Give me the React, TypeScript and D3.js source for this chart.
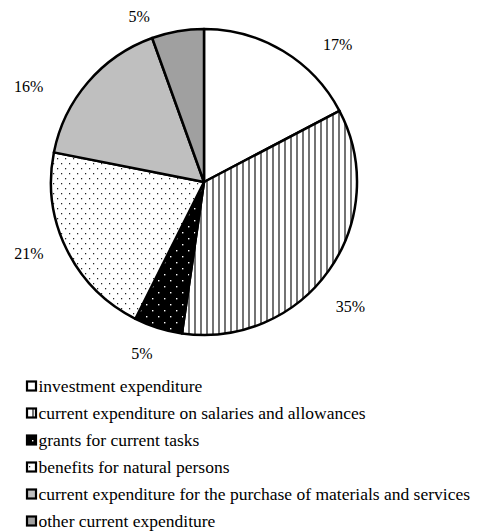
import React, { useRef, useEffect } from 'react';
import * as d3 from 'd3';

// categories and shares (percent of total)
const categories = [
    'investment expenditure',
    'current expenditure on salaries and allowances',
    'grants for current tasks',
    'benefits for natural persons',
    'current expenditure for the purchase of materials and services',
    'other current expenditure',
];
const shares = [17.3, 35.0, 5.1, 20.7, 16.4, 5.5];
const percentLabels = ['17%', '35%', '5%', '21%', '16%', '5%'];

const fills = ['#ffffff', 'url(#vlines)', 'url(#blackdots)', 'url(#whitedots)', '#bfbfbf', '#a0a0a0'];
// small nudges so the labels sit where the original put them
const labelShift = [13, 5, 2.5, 4, -12, -11.5];
const labelRadius = [192, 192, 182, 189, 200, 178];

const FONT = "'Liberation Serif', 'Times New Roman', 'DejaVu Serif', serif";

const App: React.FC = () => {
    const svgRef = useRef<SVGSVGElement | null>(null);
    const width = 478;
    const height = 532;

    useEffect(() => {
        const svg = d3.select(svgRef.current);
        svg.selectAll('*').remove();
        svg.attr('width', width).attr('height', height);

        const defs = svg.append('defs');

        // vertical hatching
        const vl = defs.append('pattern')
            .attr('id', 'vlines')
            .attr('patternUnits', 'userSpaceOnUse')
            .attr('width', 6)
            .attr('height', 6);
        vl.append('rect').attr('width', 6).attr('height', 6).attr('fill', '#fff');
        vl.append('line')
            .attr('x1', 3).attr('x2', 3).attr('y1', 0).attr('y2', 6)
            .attr('stroke', '#000').attr('stroke-width', 1.1);

        // black with white dots
        const bd = defs.append('pattern')
            .attr('id', 'blackdots')
            .attr('patternUnits', 'userSpaceOnUse')
            .attr('width', 12)
            .attr('height', 12);
        bd.append('rect').attr('width', 12).attr('height', 12).attr('fill', '#000');
        [[2, 2], [8, 8]].forEach(([x, y]) => {
            bd.append('rect').attr('x', x).attr('y', y).attr('width', 1.4).attr('height', 1.4).attr('fill', '#fff');
        });

        // white with small black dots
        const wd = defs.append('pattern')
            .attr('id', 'whitedots')
            .attr('patternUnits', 'userSpaceOnUse')
            .attr('width', 8)
            .attr('height', 10);
        wd.append('rect').attr('width', 8).attr('height', 10).attr('fill', '#fff');
        [[1, 1], [5, 6]].forEach(([x, y]) => {
            wd.append('rect').attr('x', x).attr('y', y).attr('width', 1.2).attr('height', 1.3).attr('fill', '#222');
        });

        const cx = 204;
        const cy = 182;
        const radius = 153;

        const pie = d3.pie<number>().sort(null).value(d => d);
        const arcs = pie(shares);
        const arc = d3.arc<d3.PieArcDatum<number>>().innerRadius(0).outerRadius(radius);

        const g = svg.append('g').attr('transform', `translate(${cx},${cy})`);

        g.selectAll('path.slice')
            .data(arcs)
            .enter()
            .append('path')
            .attr('class', 'slice')
            .attr('d', arc)
            .attr('fill', (_, i) => fills[i])
            .attr('stroke', '#000')
            .attr('stroke-width', 2.5)
            .attr('stroke-linejoin', 'round');

        // percent labels outside the pie
        g.selectAll('text.pct')
            .data(arcs)
            .enter()
            .append('text')
            .attr('class', 'pct')
            .attr('x', (d, i) => {
                const a = (d.startAngle + d.endAngle) / 2 + (labelShift[i] * Math.PI) / 180;
                return Math.sin(a) * labelRadius[i];
            })
            .attr('y', (d, i) => {
                const a = (d.startAngle + d.endAngle) / 2 + (labelShift[i] * Math.PI) / 180;
                return -Math.cos(a) * labelRadius[i];
            })
            .attr('text-anchor', 'middle')
            .attr('dominant-baseline', 'central')
            .style('font-family', FONT)
            .style('font-size', '16px')
            .attr('fill', '#000')
            .text((_, i) => percentLabels[i]);

        // legend
        const legendY = d3.scalePoint<string>()
            .domain(categories)
            .range([386, 521]);

        const legend = svg.append('g');
        categories.forEach((c, i) => {
            const y = legendY(c) as number;
            legend.append('rect')
                .attr('x', 27)
                .attr('y', y - 4.5)
                .attr('width', 9)
                .attr('height', 9)
                .attr('fill', fills[i])
                .attr('stroke', '#000')
                .attr('stroke-width', 2.2);
            legend.append('text')
                .attr('x', 38.5)
                .attr('y', y)
                .attr('dominant-baseline', 'central')
                .style('font-family', FONT)
                .style('font-size', '17.5px')
                .attr('fill', '#000')
                .text(c);
        });
    }, []);

    return (
        <div style={{ position: 'absolute', left: 0, top: 0 }}>
            <svg ref={svgRef} style={{ display: 'block' }}></svg>
        </div>
    );
};

export default App;
